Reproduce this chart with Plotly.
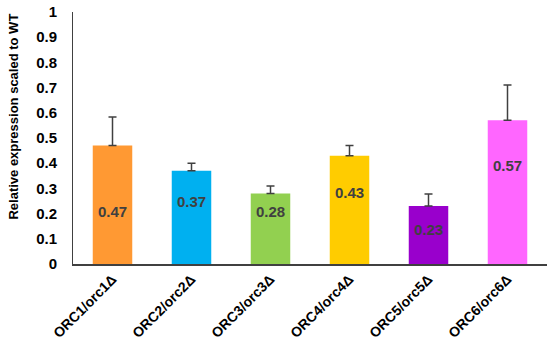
import plotly.graph_objects as go

categories = ["ORC1/orc1Δ", "ORC2/orc2Δ", "ORC3/orc3Δ", "ORC4/orc4Δ", "ORC5/orc5Δ", "ORC6/orc6Δ"]
values = [0.47, 0.37, 0.28, 0.43, 0.23, 0.57]
errors = [0.113, 0.030, 0.030, 0.040, 0.048, 0.140]
value_labels = ["0.47", "0.37", "0.28", "0.43", "0.23", "0.57"]
colors = ["#FF9933", "#00B0F0", "#92D050", "#FFCC00", "#9900CC", "#FF66FF"]
y_title = "Relative expression scaled to WT"

# vertical placement of the in-bar labels (data units)
label_y = [0.21, 0.25, 0.21, 0.285, 0.135, 0.39]

fig = go.Figure()
fig.add_trace(go.Bar(
    x=categories, y=values,
    marker=dict(color=colors, line=dict(width=0)),
    width=0.5,
    error_y=dict(type="data", array=errors, arrayminus=[0]*len(errors), symmetric=False,
                 color="#404040", thickness=1.5, width=4),
    showlegend=False,
))

for c, t, ly in zip(categories, value_labels, label_y):
    fig.add_annotation(x=c, y=ly, text="<b>" + t + "</b>", showarrow=False,
                       font=dict(family="Liberation Sans, Arial", size=15, color="#404040"))

fig.add_annotation(xref="paper", yref="paper", x=0, y=0.585, xshift=-59,
                   text="<b>" + y_title + "</b>", textangle=-90, showarrow=False,
                   xanchor="center", yanchor="middle",
                   font=dict(family="Liberation Sans, Arial", size=13, color="black"))

fig.update_layout(
    width=550, height=347,
    margin=dict(l=73, r=3, t=12, b=83),
    paper_bgcolor="white", plot_bgcolor="white",
    font=dict(family="Liberation Sans, Arial", color="black"),
    bargap=0.5,
)
fig.update_yaxes(
    range=[0, 1], dtick=0.1, showgrid=False, zeroline=False, automargin=False,
    showline=True, linecolor="#404040", linewidth=1,
    ticks="", tickfont=dict(size=15), ticklabeloverflow="allow", ticklabelstandoff=12,
    tickprefix="<b>", ticksuffix="</b>",
)
fig.update_xaxes(
    showgrid=False, showline=True, linecolor="#404040", linewidth=1.5, automargin=False,
    ticks="", tickangle=-45,
    tickfont=dict(size=14),
    tickprefix="<b>", ticksuffix="</b>",
)

fig.write_html("out.html", config={"displayModeBar": False},
               post_script="document.body.style.margin='0';document.body.style.overflow='hidden';")
